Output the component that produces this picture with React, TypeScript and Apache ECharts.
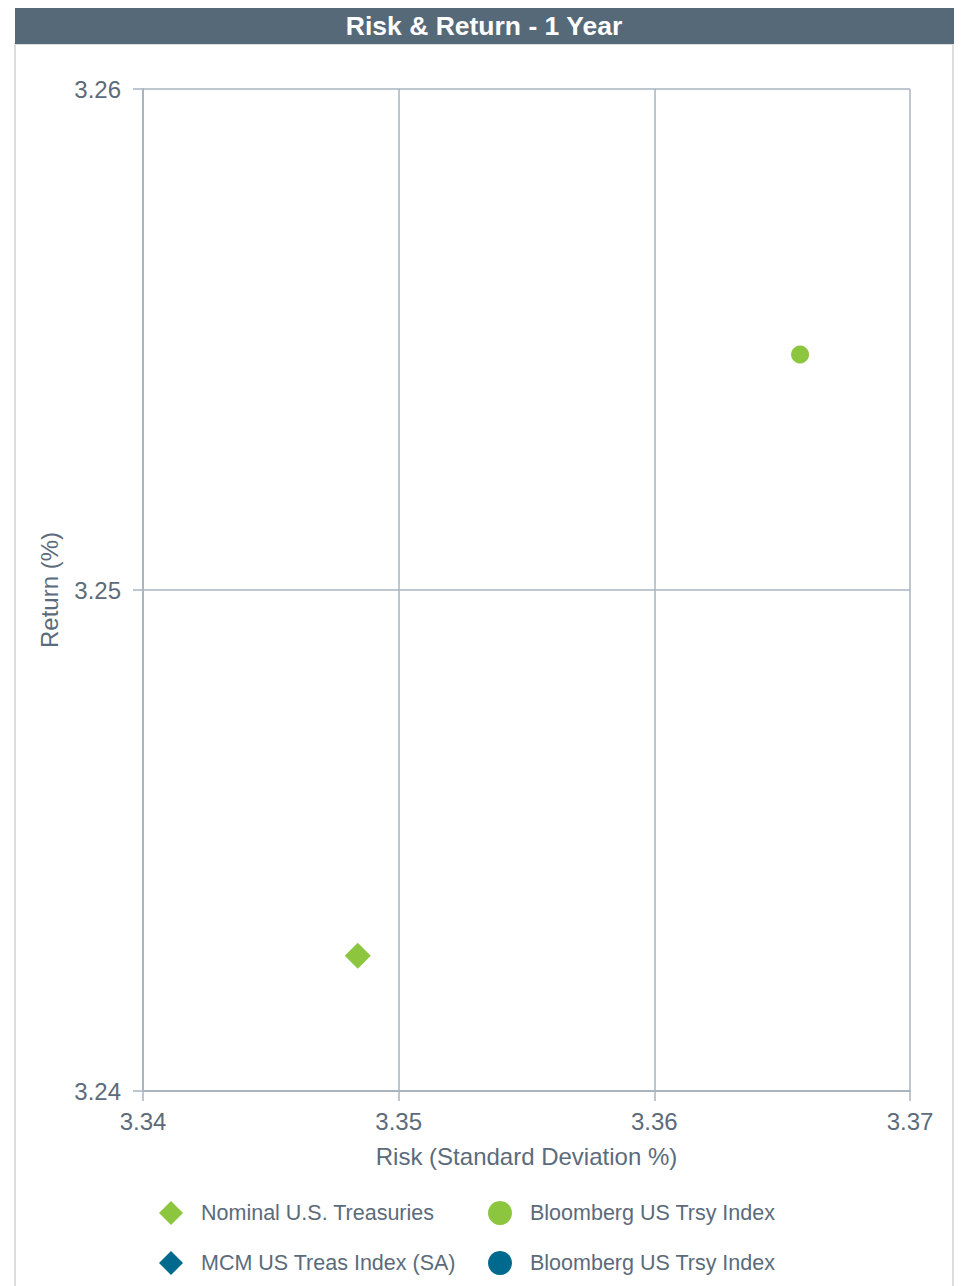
import React, { useEffect, useRef } from "react";
import * as echarts from "echarts";

const titleText = "Risk & Return - 1 Year";
const xAxisName = "Risk (Standard Deviation %)";
const yAxisName = "Return (%)";

const seriesNames = [
  "Nominal U.S. Treasuries",
  "Bloomberg US Trsy Index #1",
  "MCM US Treas Index (SA)",
  "Bloomberg US Trsy Index #2",
];
const seriesColors = ["#8cc63f", "#8cc63f", "#006a8e", "#006a8e"];
const seriesSymbols = ["diamond", "circle", "diamond", "circle"];
// [risk, return]
const nominalData = [[3.3484, 3.2427]];
const bloombergGreenData = [[3.3657, 3.2547]];
const mcmData: number[][] = [];
const bloombergBlueData: number[][] = [];
const seriesData = [nominalData, bloombergGreenData, mcmData, bloombergBlueData];

const xMin = 3.34, xMax = 3.37, xStep = 0.01;
const yMin = 3.24, yMax = 3.26, yStep = 0.01;

const FONT = "'Liberation Sans', Arial, sans-serif";
const TEXT = "#5b6b7b";
const GRID = "#a9b4c0";

export default function App() {
  const ref = useRef<HTMLDivElement>(null);
  useEffect(() => {
    if (!ref.current) return;
    const chart = echarts.init(ref.current, undefined, { renderer: "svg" });
    const legendFmt = (n: string) => n.replace(/ #\d$/, "");
    const legendCommon = {
      orient: "vertical" as const,
      itemWidth: 24,
      itemHeight: 24,
      itemGap: 26,
      formatter: legendFmt,
      textStyle: { color: TEXT, fontSize: 21.5, fontFamily: FONT, padding: [0, 0, 0, 13] },
      selectedMode: false,
    };
    chart.setOption({
      animation: false,
      textStyle: { fontFamily: FONT },
      graphic: [
        {
          type: "rect",
          shape: { x: 15, y: 44, width: 938, height: 1260 },
          style: { fill: "#fff", stroke: "#dcdcdc", lineWidth: 2 },
          z: -10,
        },
        {
          type: "rect",
          shape: { x: 15, y: 8, width: 939, height: 36 },
          style: { fill: "#566978" },
          z: 0,
        },
        {
          type: "text",
          x: 484,
          y: 26,
          style: {
            text: titleText,
            fill: "#ffffff",
            font: `bold 26.5px ${FONT}`,
            align: "center",
            verticalAlign: "middle",
          },
          z: 1,
        },
      ],
      grid: { left: 143, right: 51, top: 89, bottom: 195 },
      xAxis: {
        type: "value",
        min: xMin,
        max: xMax,
        interval: xStep,
        name: xAxisName,
        nameLocation: "middle",
        nameGap: 53,
        nameTextStyle: { color: TEXT, fontSize: 24, fontFamily: FONT },
        axisLine: { show: true, lineStyle: { color: GRID, width: 2 } },
        axisTick: { show: true, length: 10, lineStyle: { color: GRID, width: 1.5 } },
        axisLabel: {
          color: TEXT,
          fontSize: 24,
          fontFamily: FONT,
          margin: 18,
          formatter: (v: number) => v.toFixed(2),
        },
        splitLine: { show: true, lineStyle: { color: GRID, width: 1.5 } },
      },
      yAxis: {
        type: "value",
        min: yMin,
        max: yMax,
        interval: yStep,
        name: yAxisName,
        nameLocation: "middle",
        nameGap: 82,
        nameTextStyle: { color: TEXT, fontSize: 24, fontFamily: FONT },
        axisLine: { show: true, lineStyle: { color: GRID, width: 2 } },
        axisTick: { show: true, length: 10, lineStyle: { color: GRID, width: 1.5 } },
        axisLabel: {
          color: TEXT,
          fontSize: 24,
          fontFamily: FONT,
          margin: 22,
          formatter: (v: number) => v.toFixed(2),
        },
        splitLine: { show: true, lineStyle: { color: GRID, width: 1.5 } },
      },
      legend: [
        { ...legendCommon, left: 154, top: 1196, data: [seriesNames[0], seriesNames[2]] },
        { ...legendCommon, left: 483, top: 1196, data: [seriesNames[1], seriesNames[3]] },
      ],
      series: seriesNames.map((name, i) => ({
        name,
        type: "scatter",
        data: seriesData[i],
        symbol: seriesSymbols[i],
        symbolSize: seriesSymbols[i] === "diamond" ? 26 : 18,
        itemStyle: { color: seriesColors[i], opacity: 1 },
        z: 10 - i,
      })),
    });
    return () => chart.dispose();
  }, []);
  return (
    <div
      ref={ref}
      style={{ position: "absolute", left: 0, top: 0, width: 961, height: 1286 }}
    />
  );
}
